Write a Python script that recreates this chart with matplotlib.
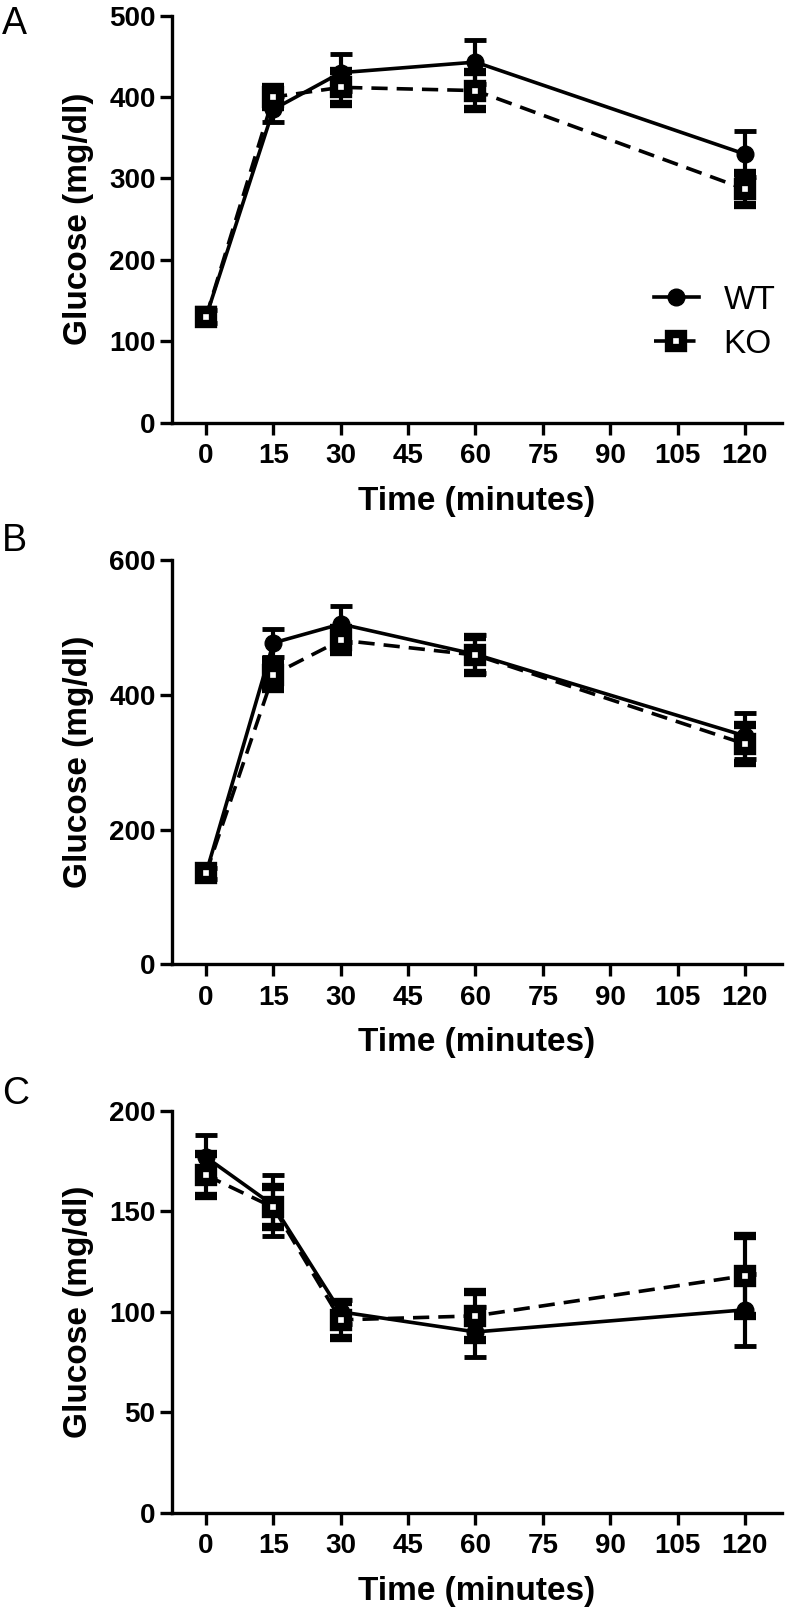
import matplotlib
matplotlib.use('Agg')
import matplotlib.pyplot as plt

plt.rcParams['font.family'] = ['Liberation Sans', 'DejaVu Sans']

time = [0, 15, 30, 60, 120]
xticks = [0, 15, 30, 45, 60, 75, 90, 105, 120]

# panel A
wt_a = [130, 385, 430, 443, 330]
wt_a_err = [8, 16, 23, 27, 28]
ko_a = [130, 400, 412, 408, 287]
ko_a_err = [8, 12, 20, 23, 20]

# panel B
wt_b = [135, 477, 505, 460, 339]
wt_b_err = [8, 21, 26, 28, 34]
ko_b = [135, 430, 481, 459, 327]
ko_b_err = [8, 22, 18, 26, 28]

# panel C
wt_c = [177, 153, 100, 90, 101]
wt_c_err = [11, 15, 6, 12.5, 18]
ko_c = [168, 152, 96, 98, 118]
ko_c_err = [10.5, 10, 9, 12, 20]

panels = [
    ('A', wt_a, wt_a_err, ko_a, ko_a_err, 500, 100),
    ('B', wt_b, wt_b_err, ko_b, ko_b_err, 600, 200),
    ('C', wt_c, wt_c_err, ko_c, ko_c_err, 200, 50),
]

W, H = 788, 1617
fig = plt.figure(figsize=(W / 100, H / 100), dpi=100)

# axes boxes in pixels: (top, bottom)
boxes = [(15.7, 422.7), (560, 964.3), (1111, 1512.7)]
letter_tops = [6, 523, 1076]
left_px, right_px = 171.7, 781.7

for (name, wt, wt_err, ko, ko_err, ymax, ystep), (top, bot), ltop in zip(panels, boxes, letter_tops):
    ax = fig.add_axes([left_px / W, 1 - bot / H, (right_px - left_px) / W, (bot - top) / H])
    ax.errorbar(time, wt, yerr=wt_err, color='black', lw=2.6, marker='o', ms=12,
                elinewidth=3, capsize=8, capthick=3.5, label='WT', clip_on=False, zorder=3)
    ax.errorbar(time, ko, yerr=ko_err, color='black', lw=2.6, ls=(0, (4.5, 2.5)), marker='s', ms=10,
                mfc='white', mew=6, elinewidth=3, capsize=8, capthick=3.5, label='KO',
                clip_on=False, zorder=4)
    ax.set_xlim(-7.64, 128.2)
    ax.set_ylim(0, ymax)
    ax.set_xticks(xticks)
    ax.set_yticks(range(0, ymax + 1, ystep))
    for s in ['top', 'right']:
        ax.spines[s].set_visible(False)
    for s in ['left', 'bottom']:
        ax.spines[s].set_linewidth(2.4)
    ax.tick_params(width=2.4, length=8.6, labelsize=20)
    ax.tick_params(axis='x', pad=6)
    ax.tick_params(axis='y', pad=3)
    for lab in ax.get_xticklabels() + ax.get_yticklabels():
        lab.set_fontweight('bold')
    ax.set_xlabel('Time (minutes)', fontsize=24, fontweight='bold', labelpad=12)
    ax.set_ylabel('Glucose (mg/dl)', fontsize=24, fontweight='bold', labelpad=11)
    fig.text(2 / W, 1 - ltop / H, name, fontsize=27, va='top', ha='left')
    if name == 'A':
        h, l = ax.get_legend_handles_labels()
        h = [x[0] for x in h]
        ax.legend(h, l, loc='center left', bbox_to_anchor=(0.79, 0.247), frameon=False,
                  fontsize=24, borderpad=0, borderaxespad=0, handlelength=1.35,
                  handletextpad=0.75, labelspacing=0.4)

fig.savefig('out.png', dpi=100)
